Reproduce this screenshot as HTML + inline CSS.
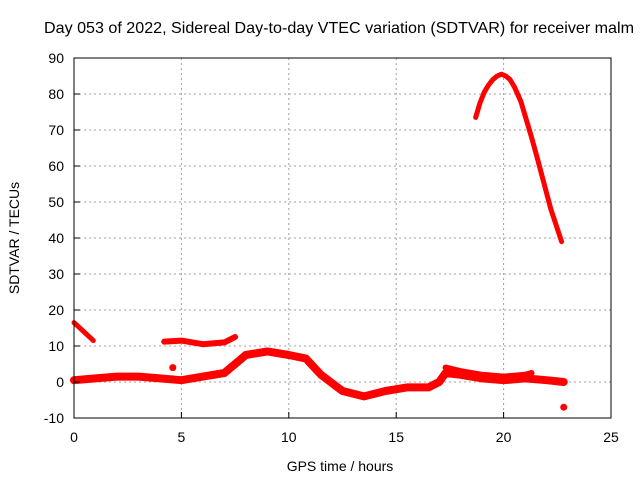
<!DOCTYPE html>
<html><head><meta charset="utf-8"><style>
body{margin:0;background:#fff;font-family:"Liberation Sans",sans-serif;}
svg text{font-family:"Liberation Sans",sans-serif;font-size:14px;fill:#000;}
</style></head><body>
<svg width="640" height="480" id="c">
<rect width="640" height="480" fill="#fff"/>
<text x="339" y="33" text-anchor="middle" style="font-size:16px" textLength="590" lengthAdjust="spacingAndGlyphs">Day 053 of 2022, Sidereal Day-to-day VTEC variation (SDTVAR) for receiver malm</text>
<text x="340" y="471" text-anchor="middle">GPS time / hours</text>
<text transform="translate(19,238) rotate(-90)" text-anchor="middle">SDTVAR / TECUs</text>
<g id="grid"></g><g id="data"></g><g id="axes"></g>
</svg>
<script>
const xTicks=[0,5,10,15,20,25];
const yTicks=[-10,0,10,20,30,40,50,60,70,80,90];
const seriesDecline=[[0,16.5],[0.9,11.5]];
const seriesMain=[[0,0.5],[1,1],[2,1.5],[3,1.5],[4,1],[5,0.5],[6,1.5],[7,2.5],[7.5,5],[8,7.5],[9,8.5],[10,7.5],[10.8,6.5],[11.5,2],[12.5,-2.5],[13.5,-4],[14.5,-2.5],[15.5,-1.5],[16.5,-1.5],[17,0],[17.3,2.5],[18,2],[19,1],[20,0.5],[21,1],[22,0.5],[22.8,0]];
const seriesUpperLate=[[17.3,4],[18,3],[19,2],[20,1.5],[21,2],[21.3,2.5]];
const seriesUpperBand=[[4.2,11.2],[5,11.5],[6,10.5],[7,11],[7.5,12.5]];
const seriesPeak=[[18.7,73.5],[18.9,77.5],[19.1,80.5],[19.3,82.5],[19.5,84],[19.7,85],[19.9,85.5],[20.1,85],[20.3,84],[20.5,82],[20.8,78],[21.0,74],[21.3,68],[21.6,61.5],[21.8,57],[22.0,52.5],[22.2,48],[22.45,43.5],[22.7,39]];
const blobs=[[4.6,4],[22.8,-7]];
const X=h=>74+h*(537/25), Y=v=>58+(90-v)*3.6;
const ns="http://www.w3.org/2000/svg";
function mk(t,a,p){const e=document.createElementNS(ns,t);for(const k in a)e.setAttribute(k,a[k]);p.appendChild(e);return e;}
const grid=document.getElementById('grid'),axes=document.getElementById('axes'),data=document.getElementById('data');
xTicks.forEach(t=>{
 if(t>0&&t<25){const l=mk('line',{x1:X(t),x2:X(t),y1:58,y2:418,stroke:'#a0a0a0','stroke-dasharray':'2,3'},grid);
 }
 const tk=mk('line',{x1:X(t),x2:X(t),y1:418,y2:412,stroke:'#000'},axes);
 
 const tx=mk('text',{x:X(t),y:442,'text-anchor':'middle'},axes);tx.textContent=t;
 
});
yTicks.forEach(t=>{
 if(t>-10&&t<90){const l=mk('line',{x1:74,x2:611,y1:Y(t),y2:Y(t),stroke:'#a0a0a0','stroke-dasharray':'2,3'},grid);
 }
 const tk=mk('line',{x1:74,x2:80,y1:Y(t),y2:Y(t),stroke:'#000'},axes);
 
 const tx=mk('text',{x:64,y:Y(t)+5,'text-anchor':'end'},axes);tx.textContent=t;
 
});
const fr=mk('rect',{x:74,y:58,width:537,height:360,fill:'none',stroke:'#000'},axes);

function line(pts,w,name){const p=mk('polyline',{points:pts.map(q=>X(q[0])+','+Y(q[1])).join(' '),fill:'none',stroke:'#f00','stroke-width':w,'stroke-linejoin':'round','stroke-linecap':'round'},data);
 }
line(seriesDecline,5,'series-decline');
line(seriesMain,8,'series-main');
line(seriesUpperLate,6,'series-upper-late');
line(seriesUpperBand,6,'series-upper-band');
line(seriesPeak,5,'series-peak');
blobs.forEach(b=>{const c=mk('circle',{cx:X(b[0]),cy:Y(b[1]),r:3.5,fill:'#f00'},data);
 });
</script>
</body></html>
